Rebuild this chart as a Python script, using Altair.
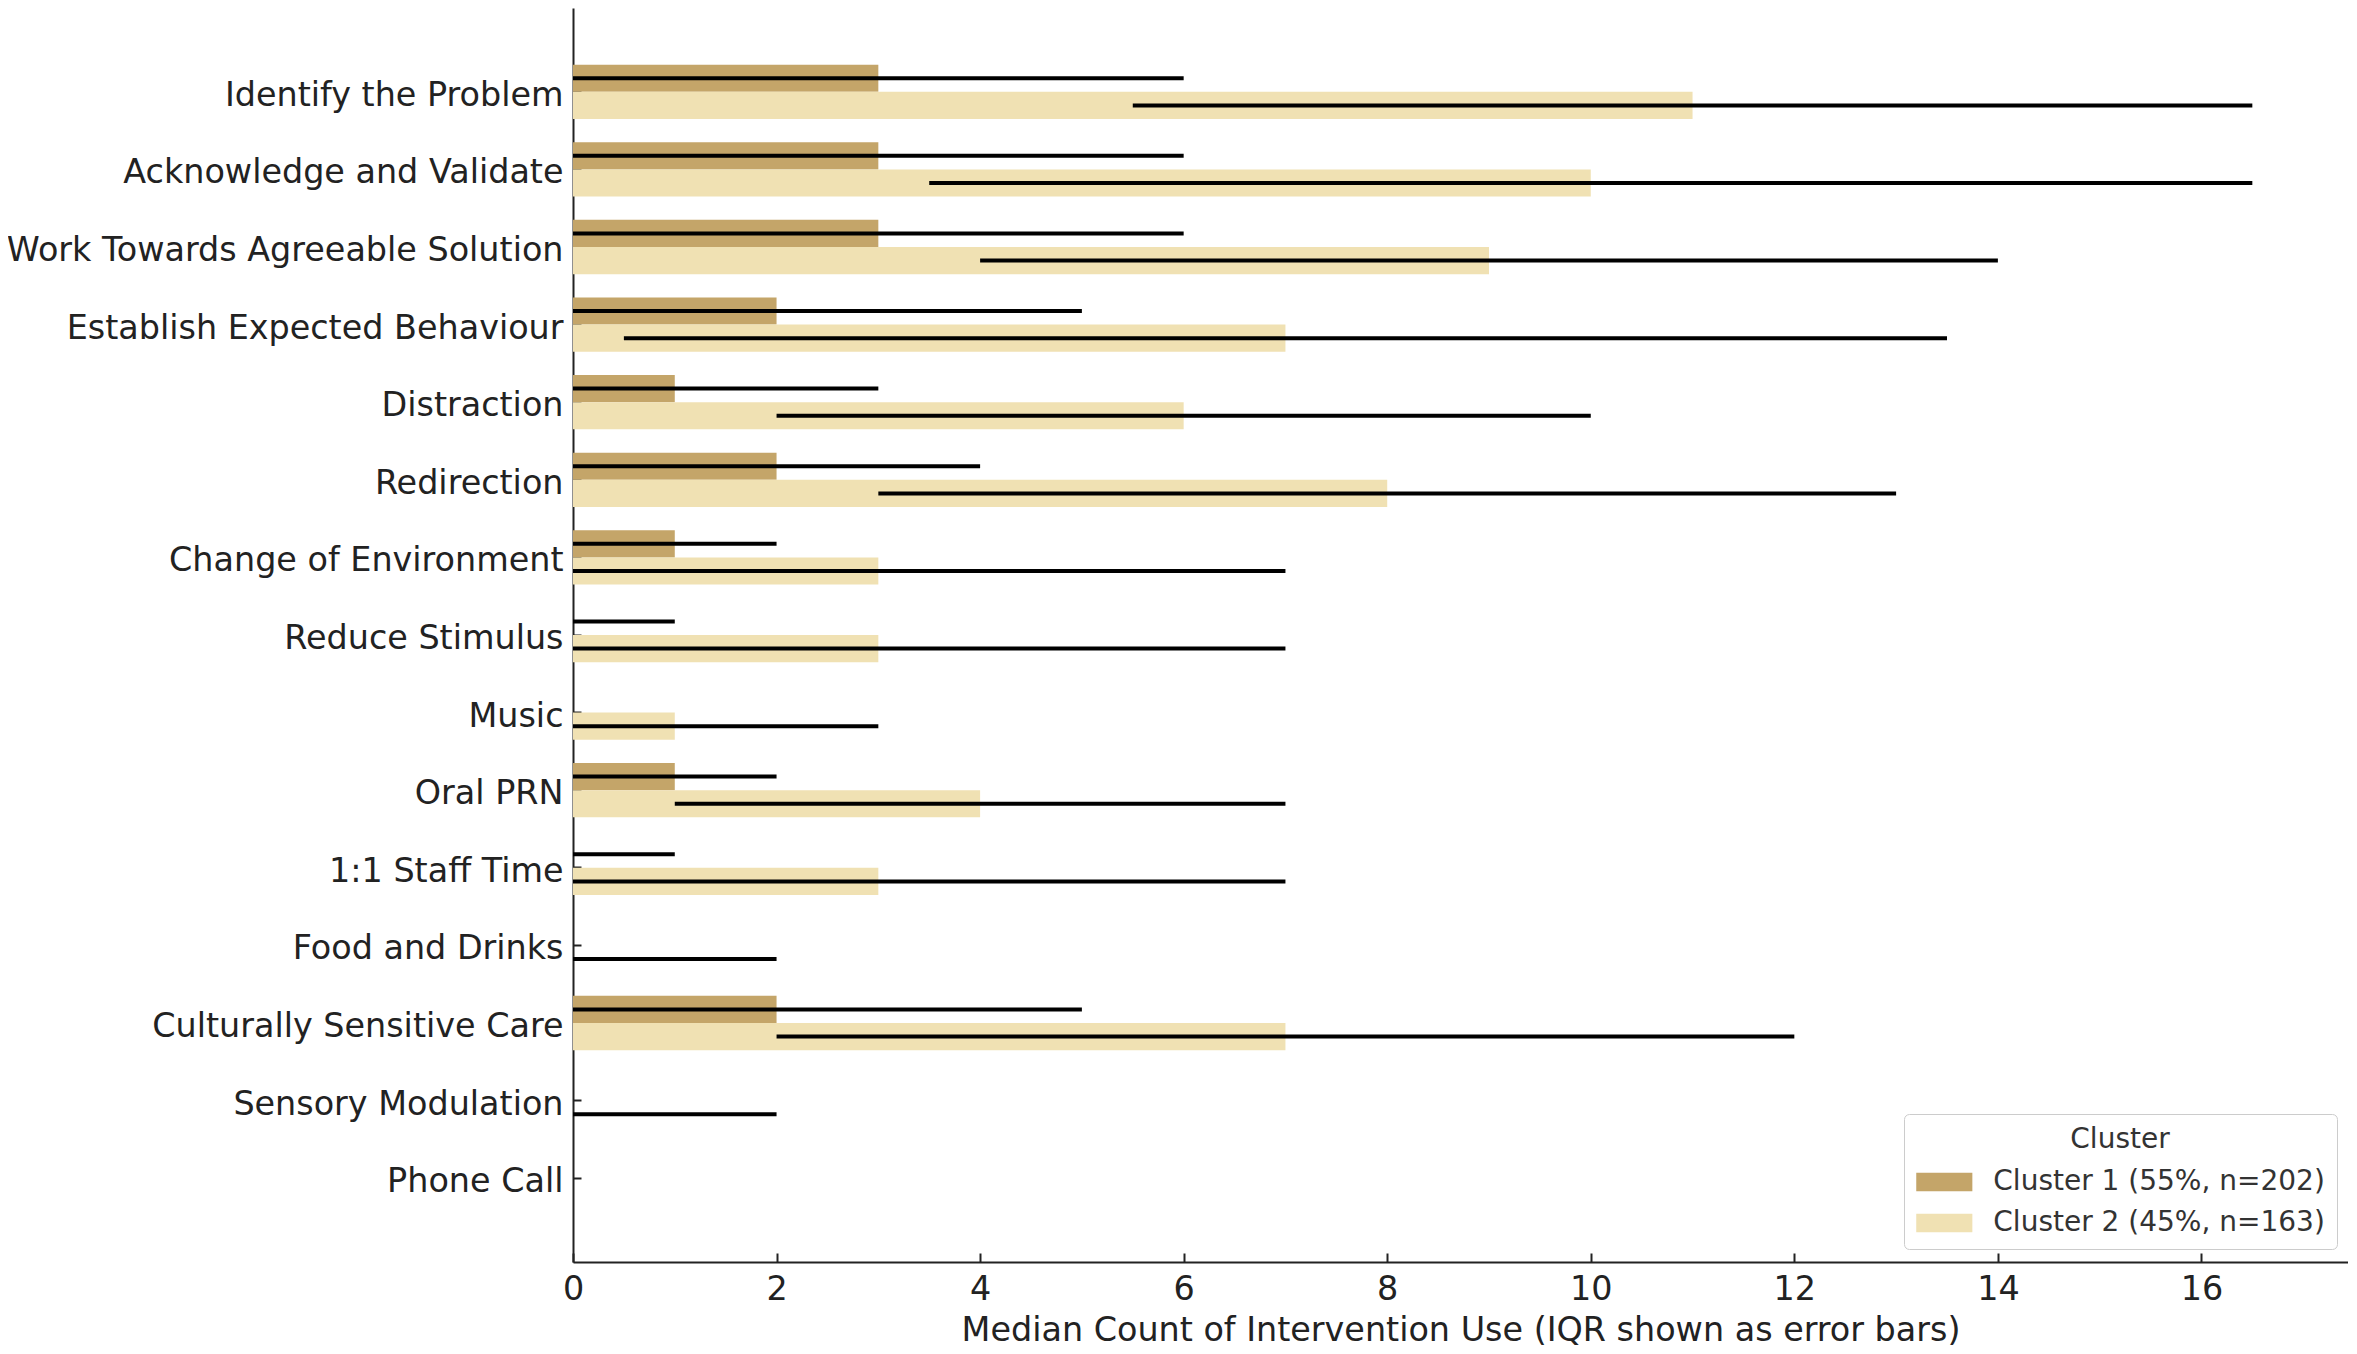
import altair as alt
import pandas as pd

interventions = [
    "Identify the Problem", "Acknowledge and Validate", "Work Towards Agreeable Solution",
    "Establish Expected Behaviour", "Distraction", "Redirection", "Change of Environment",
    "Reduce Stimulus", "Music", "Oral PRN", "1:1 Staff Time", "Food and Drinks",
    "Culturally Sensitive Care", "Sensory Modulation", "Phone Call",
]
clusters = ["Cluster 1 (55%, n=202)", "Cluster 2 (45%, n=163)"]
colors = ["#C4A569", "#F0E1B3"]

c1_median = [3, 3, 3, 2, 1, 2, 1, 0, 0, 1, 0, 0, 2, 0, 0]
c1_q1 = [0, 0, 0, 0, 0, 0, 0, 0, 0, 0, 0, 0, 0, 0, 0]
c1_q3 = [6, 6, 6, 5, 3, 4, 2, 1, 0, 2, 1, 0, 5, 0, 0]
c2_median = [11, 10, 9, 7, 6, 8, 3, 3, 1, 4, 3, 0, 7, 0, 0]
c2_q1 = [5.5, 3.5, 4, 0.5, 2, 3, 0, 0, 0, 1, 0, 0, 2, 0, 0]
c2_q3 = [16.5, 16.5, 14, 13.5, 10, 13, 7, 7, 3, 7, 7, 2, 12, 2, 0]

x_ticks = [0, 2, 4, 6, 8, 10, 12, 14, 16]

rows = []
for name, med, lo, hi in [(clusters[0], c1_median, c1_q1, c1_q3), (clusters[1], c2_median, c2_q1, c2_q3)]:
    for i, iv in enumerate(interventions):
        rows.append({"intervention": iv, "cluster": name, "median": med[i], "q1": lo[i], "q3": hi[i]})
df = pd.DataFrame(rows)

TXT = "#222222"
xscale = alt.Scale(domain=[0, 17.44], nice=False, zero=True)
yscale = alt.Scale(paddingInner=0.3, paddingOuter=0.73)

label_x = alt.Axis(orient="bottom", values=x_ticks, ticks=False, tickSize=0, domain=True,
                   domainColor=TXT, domainWidth=2, labelFontSize=33.4, labelColor=TXT,
                   labelPadding=11, labelFlush=False, titleFontSize=33.4, titleFontWeight="normal",
                   titleColor=TXT, titlePadding=9, grid=False)
tick_x = alt.Axis(orient="bottom", values=x_ticks, offset=-9, tickSize=9, tickWidth=2,
                  tickColor=TXT, labels=False, domain=False, grid=False)
label_y = alt.Axis(orient="left", ticks=False, tickSize=0, domainColor=TXT, domainWidth=2,
                   labelFontSize=33.4, labelColor=TXT, labelPadding=10, labelLimit=1000,
                   labelOffset=4)
tick_y = alt.Axis(orient="left", offset=-8, tickSize=8, tickWidth=2, tickColor=TXT,
                  labels=False, domain=False)

legend = alt.Legend(orient="none", legendX=1331, legendY=1106, title="Cluster",
                    titleAnchor="middle", titleFontSize=28, titleFontWeight="normal",
                    titleColor="#333333", titlePadding=9, labelFontSize=28, labelColor="#333333",
                    labelLimit=1000, labelOffset=30, symbolOffset=9.3,
                    symbolType="M-1.5,-0.5L1.5,-0.5L1.5,0.5L-1.5,0.5Z", symbolSize=1399,
                    symbolStrokeWidth=0, rowPadding=8, padding=12, cornerRadius=5,
                    strokeColor="#cccccc", fillColor="#ffffff")

bars = alt.Chart(df).mark_bar().encode(
    x=alt.X("median:Q", scale=xscale, axis=label_x,
            title="Median Count of Intervention Use (IQR shown as error bars)"),
    y=alt.Y("intervention:N", sort=interventions, scale=yscale, axis=label_y, title=None),
    yOffset=alt.YOffset("cluster:N", sort=clusters),
    color=alt.Color("cluster:N", sort=clusters,
                    scale=alt.Scale(domain=clusters, range=colors), legend=legend),
)

errs = alt.Chart(df).mark_rule(color="#000000", strokeWidth=4).encode(
    x=alt.X("q1:Q", scale=xscale, axis=tick_x, title=None),
    x2="q3:Q",
    y=alt.Y("intervention:N", sort=interventions, scale=yscale, axis=tick_y, title=None),
    yOffset=alt.YOffset("cluster:N", sort=clusters),
)

chart = alt.layer(bars, errs).resolve_axis(x="independent", y="independent").properties(
    width=1775, height=1254,
    autosize=alt.AutoSizeParams(type="none"),
    padding={"left": 565, "top": 0, "right": 0, "bottom": 90},
).configure(font="DejaVu Sans").configure_view(stroke=None)

chart.save("out.html", embed_options={"renderer": "svg", "actions": False})
